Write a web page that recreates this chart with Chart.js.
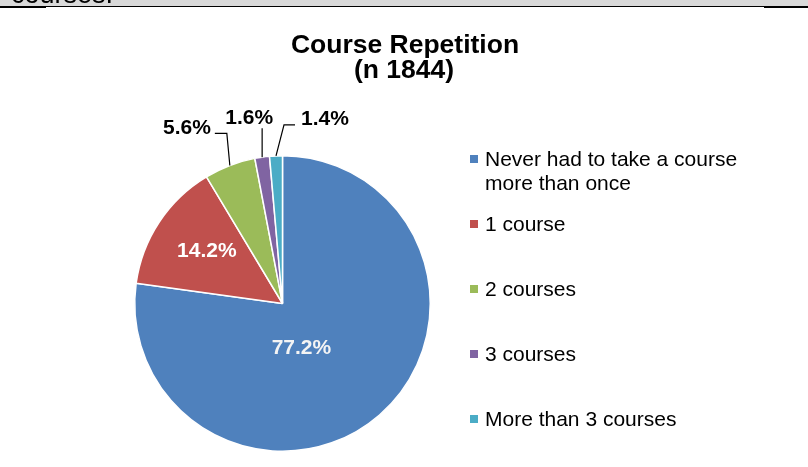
<!DOCTYPE html>
<html>
<head>
<meta charset="utf-8">
<script src="https://cdn.jsdelivr.net/npm/chart.js@4.4.1/dist/chart.umd.min.js"></script>
<style>
  body { margin: 0; background: #fff; }
  canvas { display: block; }
</style>
</head>
<body>
<canvas id="myChart" width="808" height="467"></canvas>
<script>
// chart data
const titleLines = ["Course Repetition", "(n 1844)"];
const categories = [
  ["Never had to take a course", "more than once"],
  "1 course",
  "2 courses",
  "3 courses",
  "More than 3 courses"
];
const shares = [77.2, 14.2, 5.6, 1.6, 1.4];
const sliceColors = ["#4F81BD", "#C0504D", "#9BBB59", "#8064A2", "#4BACC6"];

// where each percentage label goes (inside the slice or outside with a leader line)
const labelStyle = [
  { inside: true, f: 0.36, dx: -16, dy: 5, color: "#f4f4f4" },
  { inside: true, f: 0.63, dx: 2, dy: -1, color: "#ffffff" },
  { inside: false, line: [[-3, -32], [-15, -32]], tx: -19, ty: -31, align: "right" },
  { inside: false, line: [[0, -29]], tx: -13, ty: -33, align: "center" },
  { inside: false, line: [[8, -31], [19, -31]], tx: 25, ty: -31, align: "left" }
];

const FONT = '"Liberation Sans", Arial, sans-serif';

const pageDeco = {
  id: "pageDeco",
  beforeDraw(chart) {
    const ctx = chart.ctx;
    ctx.save();
    ctx.fillStyle = "#fff";
    ctx.fillRect(0, 0, chart.width, chart.height);
    // clipped band at the top of the page
    ctx.fillStyle = "#d9d9d9";
    ctx.fillRect(0, 0, chart.width, 6);
    ctx.beginPath();
    ctx.rect(0, 0, chart.width, 6);
    ctx.clip();
    ctx.fillStyle = "#000";
    ctx.font = "27px " + FONT;
    ctx.textBaseline = "alphabetic";
    ctx.fillText("courses.", 11, 3);
    ctx.restore();
    ctx.save();
    ctx.fillStyle = "#000";
    ctx.fillRect(0, 6, chart.width, 1);
    ctx.fillRect(0, 6, 46, 2);
    ctx.fillRect(764, 6, chart.width - 764, 2);
    ctx.restore();
  }
};

const pieText = {
  id: "pieText",
  afterDraw(chart) {
    const ctx = chart.ctx;
    const meta = chart.getDatasetMeta(0);
    ctx.save();

    // title
    ctx.fillStyle = "#000";
    ctx.font = "bold 26.5px " + FONT;
    ctx.textAlign = "center";
    ctx.textBaseline = "alphabetic";
    ctx.fillText(titleLines[0], 405, 53);
    ctx.fillText(titleLines[1], 404, 78);

    // percentage labels
    ctx.font = "bold 21px " + FONT;
    meta.data.forEach((arc, i) => {
      const p = arc.getProps(["x", "y", "startAngle", "endAngle", "outerRadius"], true);
      const a = (p.startAngle + p.endAngle) / 2;
      const s = labelStyle[i];
      const txt = shares[i].toFixed(1) + "%";
      if (s.inside) {
        const r = p.outerRadius * s.f;
        ctx.fillStyle = s.color;
        ctx.textAlign = "center";
        ctx.textBaseline = "middle";
        ctx.fillText(txt, p.x + Math.cos(a) * r + s.dx, p.y + Math.sin(a) * r + s.dy);
      } else {
        const ex = p.x + Math.cos(a) * p.outerRadius;
        const ey = p.y + Math.sin(a) * p.outerRadius;
        ctx.strokeStyle = "#000";
        ctx.lineWidth = 1.2;
        ctx.beginPath();
        ctx.moveTo(ex, ey);
        s.line.forEach(pt => ctx.lineTo(ex + pt[0], ey + pt[1]));
        ctx.stroke();
        ctx.fillStyle = "#000";
        ctx.textAlign = s.align;
        ctx.textBaseline = "alphabetic";
        ctx.fillText(txt, ex + s.tx, ey + s.ty);
      }
    });

    // legend
    ctx.font = "21px " + FONT;
    ctx.textAlign = "left";
    ctx.textBaseline = "middle";
    let y = 159;
    categories.forEach((lab, i) => {
      ctx.fillStyle = sliceColors[i];
      ctx.fillRect(470, y - 4, 8, 8);
      ctx.fillStyle = "#000";
      const lines = Array.isArray(lab) ? lab : [lab];
      lines.forEach((ln, k) => ctx.fillText(ln, 485, y + 1 + k * 24));
      y += 65;
    });
    ctx.restore();
  }
};

function createChart() {
  new Chart("myChart", {
    type: "pie",
    data: {
      labels: categories,
      datasets: [{
        data: shares,
        backgroundColor: sliceColors,
        borderColor: "#ffffff",
        borderWidth: 1.5
      }]
    },
    plugins: [pageDeco, pieText],
    options: {
      responsive: false,
      animation: false,
      devicePixelRatio: 1,
      layout: {
        padding: { left: 134, right: 377, top: 155, bottom: 15 }
      },
      plugins: {
        legend: { display: false },
        tooltip: { enabled: false },
        title: { display: false }
      }
    }
  });
}

createChart();
</script>
</body>
</html>
